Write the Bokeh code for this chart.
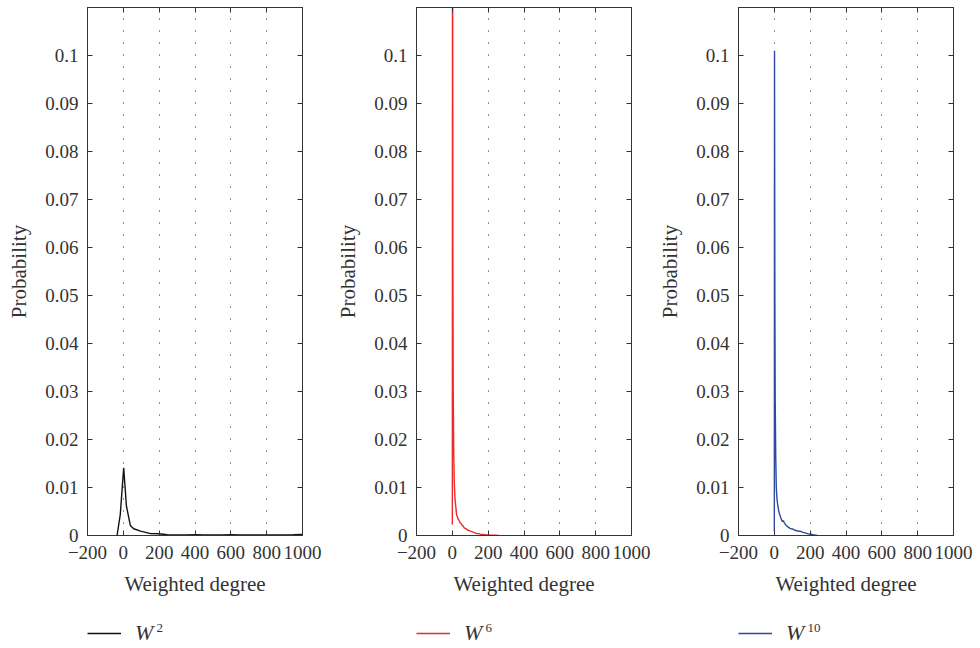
from bokeh.plotting import figure
from bokeh.models import (Range1d, FixedTicker, LinearAxis, CustomJSTickFormatter,
                          Legend, LegendItem, Label)
from bokeh.layouts import row, column
from bokeh.embed import file_html
from bokeh.resources import INLINE

# ---------------- data ----------------
x_ticks = [-200, 0, 200, 400, 600, 800, 1000]
grid_ticks = [0, 200, 400, 600, 800]
y_ticks = [0, 0.01, 0.02, 0.03, 0.04, 0.05, 0.06, 0.07, 0.08, 0.09, 0.1]

w2_x = [-35, -17, 2, 17, 39, 58, 96, 152, 199, 246, 300, 350, 406, 450, 500,
        550, 600, 650, 700, 750, 800, 850, 900, 950, 1000]
w2_y = [0, 0.0044, 0.0141, 0.0062, 0.0021, 0.0014, 0.0009, 0.0004, 0.00035,
        0.00015, 0.00012, 0.0001, 0.00018, 0.00012, 0.0001, 0.00012, 0.00016,
        0.00012, 0.0001, 0.00012, 0.00012, 0.0001, 0.00012, 0.00015, 0.0002]

w6_x = [0, 1, 3, 5, 8, 11, 15, 20, 24, 28, 32, 36, 40, 45, 50, 55, 60, 66, 72,
        78, 85, 92, 100, 108, 116, 125, 135, 145, 155, 165, 175, 190, 205, 220,
        240, 258]
w6_y = [0.0023, 0.16, 0.06, 0.03, 0.017, 0.011, 0.0075, 0.0058, 0.0042, 0.0040,
        0.0034, 0.0033, 0.0029, 0.0026, 0.0024, 0.0021, 0.0020, 0.0016, 0.0015,
        0.0014, 0.0011, 0.0011, 0.0009, 0.0008, 0.0007, 0.0006, 0.0004, 0.0004,
        0.0003, 0.00022, 0.0002, 0.00014, 0.0001, 0.00008, 0.00004, 0.0]

w10_x = [0, 1, 3, 5, 8, 11, 15, 20, 25, 30, 35, 40, 45, 50, 55, 60, 66, 72, 80,
         88, 96, 105, 115, 125, 135, 145, 155, 165, 175, 185, 195, 205, 215,
         225, 240]
w10_y = [0.0009, 0.101, 0.05, 0.028, 0.016, 0.010, 0.0075, 0.0061, 0.0050,
         0.0044, 0.0038, 0.0033, 0.0029, 0.0031, 0.0027, 0.0024, 0.0021, 0.0019,
         0.0017, 0.0015, 0.0014, 0.0013, 0.0011, 0.0010, 0.0009, 0.0009, 0.0007,
         0.0006, 0.0005, 0.0004, 0.0003, 0.00025, 0.00015, 0.0001, 0.0]

legend_base = ["W", "W", "W"]
legend_sup = ["2", "6", "10"]
colors = ["#111111", "#ee2a2a", "#2c4a9e"]
series = [(w2_x, w2_y), (w6_x, w6_y), (w10_x, w10_y)]

FONT = "Liberation Serif"
TXT = "#333333"
AX = "#333333"
MAIN_H = 618
LEG_H = 30

x_fmt = CustomJSTickFormatter(code="return tick < 0 ? '\u2212' + (-tick) : tick.toString();")
y_fmt = CustomJSTickFormatter(code="return tick === 0 ? '0' : parseFloat(tick.toFixed(2)).toString();")
blank_fmt = CustomJSTickFormatter(code="return '';")


def style_axis(ax):
    ax.axis_line_color = AX
    ax.major_tick_line_color = AX
    ax.major_tick_in = 5
    ax.major_tick_out = 0
    ax.minor_tick_line_color = None
    ax.major_label_text_font = FONT
    ax.major_label_text_font_size = "19px"
    ax.major_label_text_color = TXT
    ax.axis_label_text_font = FONT
    ax.axis_label_text_font_size = "21px"
    ax.axis_label_text_font_style = "normal"
    ax.axis_label_text_color = TXT


def make_panel(i, border_left, border_right):
    xs, ys = series[i]
    p = figure(width=border_left + 215 + border_right, height=MAIN_H,
               min_border_left=border_left, min_border_right=border_right,
               min_border_top=7, min_border_bottom=MAIN_H - 7 - 528,
               x_range=Range1d(-200, 1000), y_range=Range1d(0, 0.11),
               output_backend="svg", toolbar_location=None)
    p.background_fill_color = "white"
    p.border_fill_color = "white"
    p.outline_line_color = AX

    p.line(xs, ys, line_color=colors[i], line_width=1.4)

    p.xaxis.ticker = FixedTicker(ticks=x_ticks)
    p.xaxis.formatter = x_fmt
    p.xaxis.axis_label = "Weighted degree"
    p.xaxis.major_label_standoff = 10
    p.xaxis.axis_label_standoff = 10
    p.yaxis.ticker = FixedTicker(ticks=y_ticks)
    p.yaxis.formatter = y_fmt
    p.yaxis.axis_label = "Probability"
    p.yaxis.major_label_standoff = 9
    p.yaxis.axis_label_standoff = 11
    style_axis(p.xaxis[0])
    style_axis(p.yaxis[0])

    top = LinearAxis(ticker=FixedTicker(ticks=x_ticks), formatter=blank_fmt)
    right = LinearAxis(ticker=FixedTicker(ticks=y_ticks), formatter=blank_fmt)
    for ax in (top, right):
        style_axis(ax)
        ax.major_label_text_font_size = "0px"
        ax.major_label_standoff = 0
    p.add_layout(top, "above")
    p.add_layout(right, "right")

    p.xgrid.ticker = FixedTicker(ticks=grid_ticks)
    p.xgrid.grid_line_color = "#222222"
    p.xgrid.grid_line_dash = "1 11"
    p.xgrid.grid_line_width = 1
    p.ygrid.grid_line_color = None
    return p


def make_legend(i, border_left, border_right):
    xs, ys = series[i]
    # same series, but the ranges lie away from it, so only the legend sample shows
    q = figure(width=border_left + 215 + border_right, height=LEG_H,
               min_border_left=border_left, min_border_right=border_right,
               min_border_top=0, min_border_bottom=0,
               x_axis_type=None, y_axis_type=None,
               x_range=Range1d(2000, 3000), y_range=Range1d(1, 2),
               output_backend="svg", toolbar_location=None)
    q.outline_line_color = None
    q.background_fill_color = "white"
    q.border_fill_color = "white"
    r = q.line(xs, ys, line_color=colors[i], line_width=1.4)
    legend = Legend(items=[LegendItem(label=legend_base[i], renderers=[r])],
                    location="left", padding=0, margin=0,
                    border_line_color=None, background_fill_alpha=0,
                    glyph_width=34, glyph_height=20, label_standoff=14,
                    label_text_font=FONT, label_text_font_style="italic",
                    label_text_font_size="22px", label_text_color=TXT)
    q.add_layout(legend)
    q.add_layout(Label(x=69, y=21, x_units="screen", y_units="screen",
                       text=legend_sup[i], text_font=FONT, text_font_size="13px",
                       text_color=TXT, text_baseline="middle", text_align="left"))
    return q


borders = [(87, 27), (87, 20), (87, 27)]
mains = [make_panel(i, *borders[i]) for i in range(3)]
legs = [make_legend(i, *borders[i]) for i in range(3)]

layout = column(row(*mains), row(*legs))
open("out.html", "w").write(file_html(layout, INLINE))
